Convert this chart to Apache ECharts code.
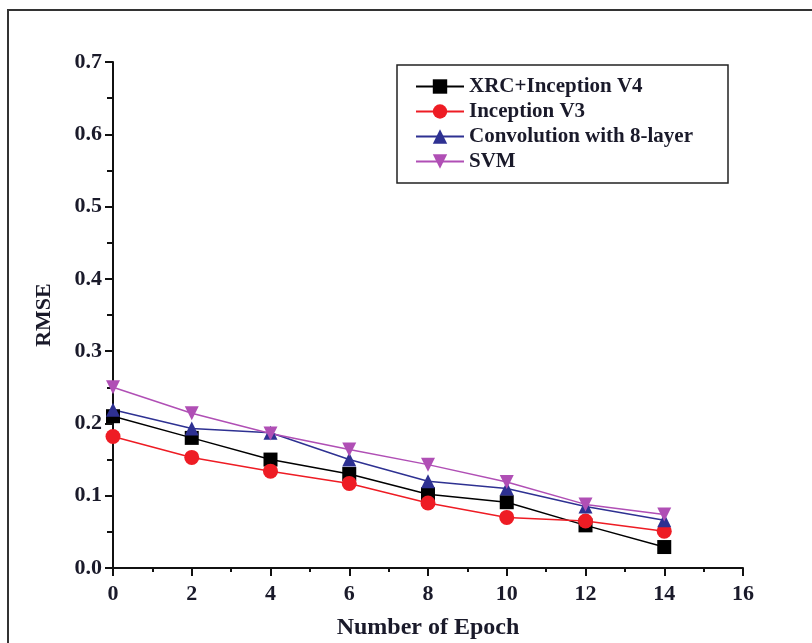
<!DOCTYPE html>
<html>
<head>
<meta charset="utf-8">
<script src="https://cdn.jsdelivr.net/npm/echarts@6/dist/echarts.min.js"></script>
<style>
html, body { margin: 0; padding: 0; background: #fff; }
#chart { width: 812px; height: 643px; }
</style>
</head>
<body>
<div id="chart"></div>
<script>
// epochs and RMSE values
var epochs = [0, 2, 4, 6, 8, 10, 12, 14];
var seriesNames = ['XRC+Inception V4', 'Inception V3', 'Convolution with 8-layer', 'SVM'];
var xrcV4 = [0.21, 0.18, 0.15, 0.13, 0.102, 0.091, 0.059, 0.029];
var inceptionV3 = [0.182, 0.153, 0.134, 0.117, 0.09, 0.07, 0.065, 0.051];
var conv8 = [0.219, 0.193, 0.187, 0.15, 0.12, 0.11, 0.085, 0.066];
var svm = [0.25, 0.214, 0.186, 0.164, 0.143, 0.119, 0.088, 0.074];

var colors = ['#000000', '#ee1c24', '#2e3192', '#b04fb5'];
var symbols = ['rect', 'circle', 'triangle', 'path://M0,0 L10,0 L5,10 Z'];

function pairs(arr) {
    return epochs.map(function (x, i) { return [x, arr[i]]; });
}

var font = '"Liberation Serif", "DejaVu Serif", serif';
var chart = echarts.init(document.getElementById('chart'));

var allData = [xrcV4, inceptionV3, conv8, svm];
var series = allData.map(function (d, i) {
    return {
        name: seriesNames[i],
        type: 'line',
        data: pairs(d),
        symbol: symbols[i],
        symbolSize: i == 1 ? 15 : 14,
        color: colors[i],
        lineStyle: { width: 1.5, color: colors[i] },
        itemStyle: { color: colors[i] },
        animation: false
    };
});

chart.setOption({
    backgroundColor: '#fff',
    grid: { left: 113, right: 69, top: 62, bottom: 75, outerBoundsMode: 'none' },
    graphic: [{
        type: 'rect',
        shape: { x: 8, y: 10, width: 900, height: 800 },
        style: { fill: 'none', stroke: '#333', lineWidth: 2 },
        silent: true
    }, {
        type: 'rect',
        shape: { x: 397, y: 65, width: 331, height: 118 },
        style: { fill: '#fff', stroke: '#222', lineWidth: 1.5 },
        z: 5,
        silent: true
    }],
    legend: {
        orient: 'vertical',
        left: 410,
        top: 71,
        itemGap: 4,
        itemWidth: 48,
        itemHeight: 18,
        z: 10,
        data: seriesNames,
        textStyle: { fontFamily: font, fontWeight: 'bold', fontSize: 21, color: '#1a1a2a' }
    },
    xAxis: {
        type: 'value',
        min: 0, max: 16, interval: 2,
        name: 'Number of Epoch',
        nameLocation: 'middle',
        nameGap: 48,
        nameTextStyle: { fontFamily: font, fontWeight: 'bold', fontSize: 24, color: '#1a1a2a' },
        axisLine: { show: true, lineStyle: { color: '#111', width: 2 } },
        axisTick: { show: true, inside: false, length: 8, lineStyle: { color: '#111', width: 2 } },
        minorTick: { show: true, splitNumber: 2, length: 4, lineStyle: { color: '#111', width: 2 } },
        splitLine: { show: false },
        axisLabel: { fontFamily: font, fontWeight: 'bold', fontSize: 22, color: '#1a1a2a', margin: 15 }
    },
    yAxis: {
        type: 'value',
        min: 0, max: 0.7, interval: 0.1,
        name: 'RMSE',
        nameLocation: 'middle',
        nameGap: 58,
        nameRotate: 90,
        nameTextStyle: { fontFamily: font, fontWeight: 'bold', fontSize: 22, color: '#1a1a2a' },
        axisLine: { show: true, lineStyle: { color: '#111', width: 2 } },
        axisTick: { show: true, inside: false, length: 8, lineStyle: { color: '#111', width: 2 } },
        minorTick: { show: true, splitNumber: 2, length: 6, lineStyle: { color: '#111', width: 2 } },
        splitLine: { show: false },
        axisLabel: {
            fontFamily: font, fontWeight: 'bold', fontSize: 22, color: '#1a1a2a', margin: 11,
            formatter: function (v) { return v.toFixed(1); }
        }
    },
    series: series
});
</script>
</body>
</html>
